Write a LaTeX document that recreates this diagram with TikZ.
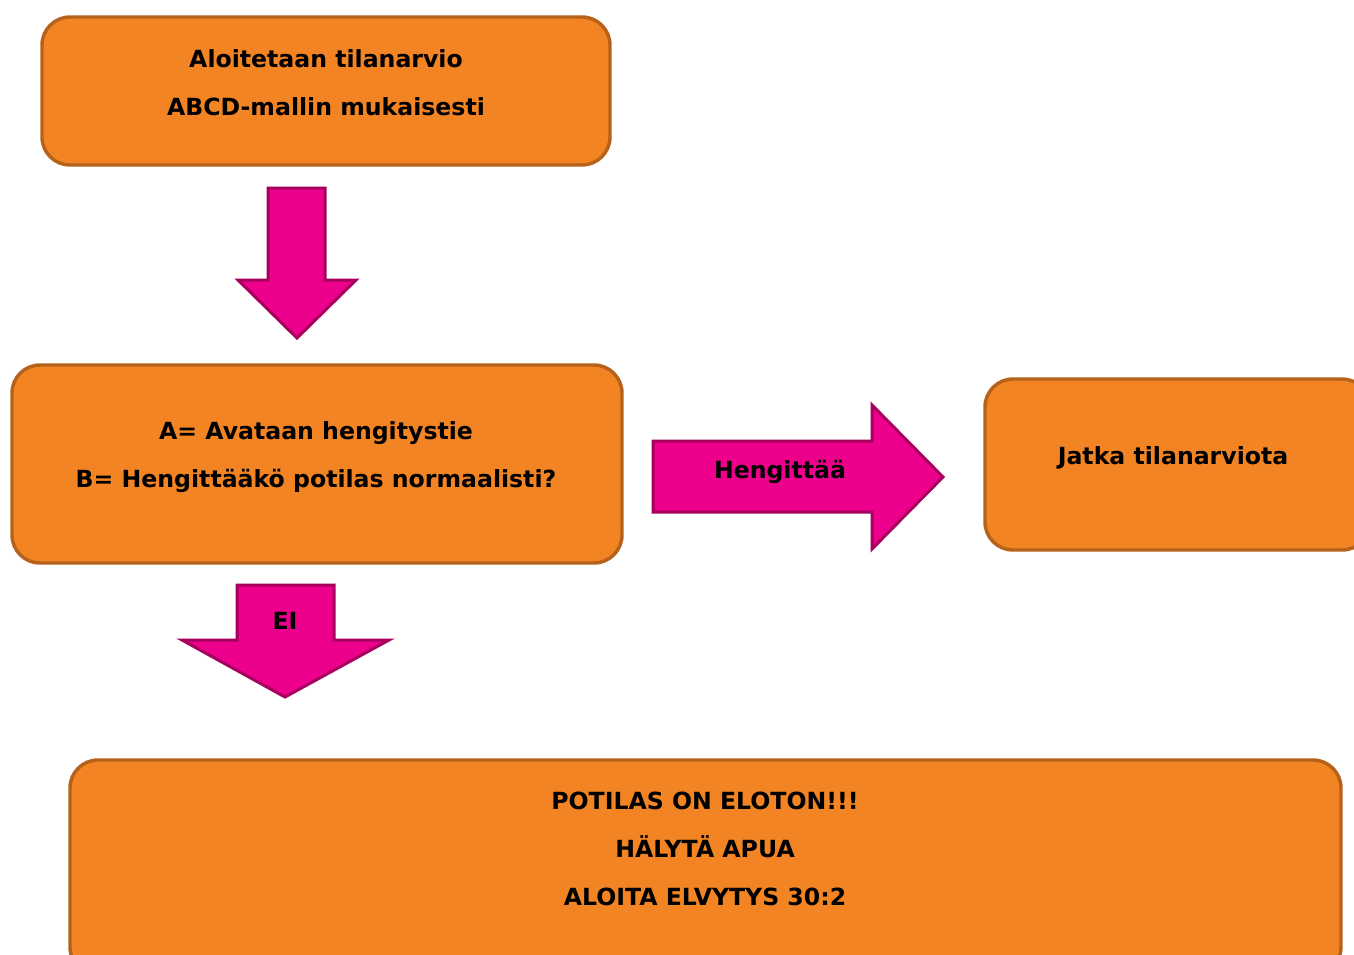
\documentclass[tikz,border=0pt]{standalone}
\usepackage{fontspec}
\setmainfont{DejaVu Sans}
\definecolor{boxfill}{HTML}{F38424}
\definecolor{boxline}{HTML}{B7621B}
\definecolor{arrfill}{HTML}{EC008C}
\definecolor{arrline}{HTML}{A8005E}
\begin{document}
\begin{tikzpicture}[x=0.75pt,y=-0.75pt,
    box/.style={draw=boxline, fill=boxfill, line width=2.6pt, rounded corners=21pt},
    blockarrow/.style={draw=arrline, fill=arrfill, line width=2.25pt},
    txt/.style={align=center, font=\fontsize{17.7pt}{36pt}\selectfont\bfseries}]
    \clip (0,0) rectangle (1354,954);

    \node[box, minimum width=426pt, minimum height=111pt] (start) at (326,91) {};
    \node[box, minimum width=457.5pt, minimum height=148.5pt] (check) at (317,464) {};
    \node[box, minimum width=288.75pt, minimum height=128.25pt] (cont) at (1177.5,464.5) {};
    \node[box, minimum width=953.25pt, minimum height=161.25pt] (cpr) at (705.5,867.5) {};

    \node[txt] (startlbl) at (326,83) {Aloitetaan tilanarvio\\ABCD-mallin mukaisesti};
    \node[txt] (checklbl) at (316,457) {A= Avataan hengitystie\\B= Hengittääkö potilas normaalisti?};
    \node[txt] (contlbl) at (1173,458) {Jatka tilanarviota};
    \node[txt] (cprlbl) at (705,849) {POTILAS ON ELOTON!!!\\HÄLYTÄ APUA\\ALOITA ELVYTYS 30:2};

    \draw[blockarrow] (268,188) -- (325,188) -- (325,280) -- (356,280) -- (297,338) -- (238,280) -- (268,280) -- cycle;
    \draw[blockarrow] (653,441) -- (872,441) -- (872,405) -- (943,477) -- (872,549) -- (872,512) -- (653,512) -- cycle;
    \draw[blockarrow] (237,585) -- (334,585) -- (334,640) -- (389,640) -- (285,697) -- (182,640) -- (237,640) -- cycle;

    \node[txt] (yes) at (780,472) {Hengittää};
    \node[txt] (no) at (285,621) {EI};
\end{tikzpicture}
\end{document}
